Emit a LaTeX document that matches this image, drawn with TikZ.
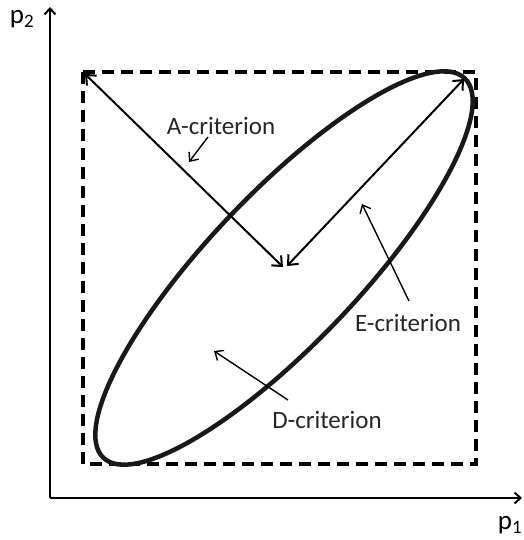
\documentclass[tikz,border=0pt]{standalone}
\usepackage{fontspec}
\setmainfont{Carlito}
\usetikzlibrary{arrows.meta}
\begin{document}
\begin{tikzpicture}[x=1pt,y=-1pt,
  axis/.style={line width=2.6pt,-{Straight Barb[length=6pt,width=11pt,line width=2pt]}},
  crit/.style={line width=2pt,{Straight Barb[length=8pt,width=14pt,line width=2pt]}-{Straight Barb[length=8pt,width=14pt,line width=2pt]}},
  pointer/.style={line width=1.4pt,-{Straight Barb[length=7pt,width=12pt,line width=1.4pt]}},
  lbl/.style={font=\fontsize{25}{29}\selectfont, text=black!85, inner sep=0pt},
  axlbl/.style={font=\fontsize{27}{30}\selectfont, inner sep=0pt}]
\useasboundingbox (0,0) rectangle (523,540);
\coordinate (O) at (50,498);
\coordinate (Ytop) at (50,7);
\coordinate (Xend) at (522,498);
\draw[axis] (O) -- (Ytop);
\draw[axis] (O) -- (Xend);
\node[axlbl] (p2) at (22,19) {p\textsubscript{2}};
\node[axlbl] (p1) at (510,525) {p\textsubscript{1}};
% dashed box
\coordinate (TL) at (83,72);
\coordinate (BR) at (476,464);
\draw[line width=3.5pt, dash pattern=on 12pt off 7pt] (TL) rectangle (BR);
% ellipse
\coordinate (C) at (284,268);
\draw[line width=4.5pt, black!90] (C) ellipse [x radius=262pt, y radius=75pt, rotate=46.4];
% criterion arrows
\coordinate (Atip) at (85,74);
\coordinate (C1) at (283,267);
\coordinate (C2) at (287,266);
\coordinate (Etip) at (464,79);
\draw[crit] (Atip) -- (C1);
\draw[crit] (C2) -- (Etip);
% labels
\node[lbl] (A) at (221,126) {A-criterion};
\node[lbl] (E) at (408,323) {E-criterion};
\node[lbl] (D) at (327,420) {D-criterion};
\coordinate (Ap) at (189,162);
\coordinate (Ep) at (362,204);
\coordinate (Dp) at (214,351);
\draw[pointer] (208,137) -- (Ap);
\draw[pointer] (409,301) -- (Ep);
\draw[pointer] (288,400) -- (Dp);
\end{tikzpicture}
\end{document}
